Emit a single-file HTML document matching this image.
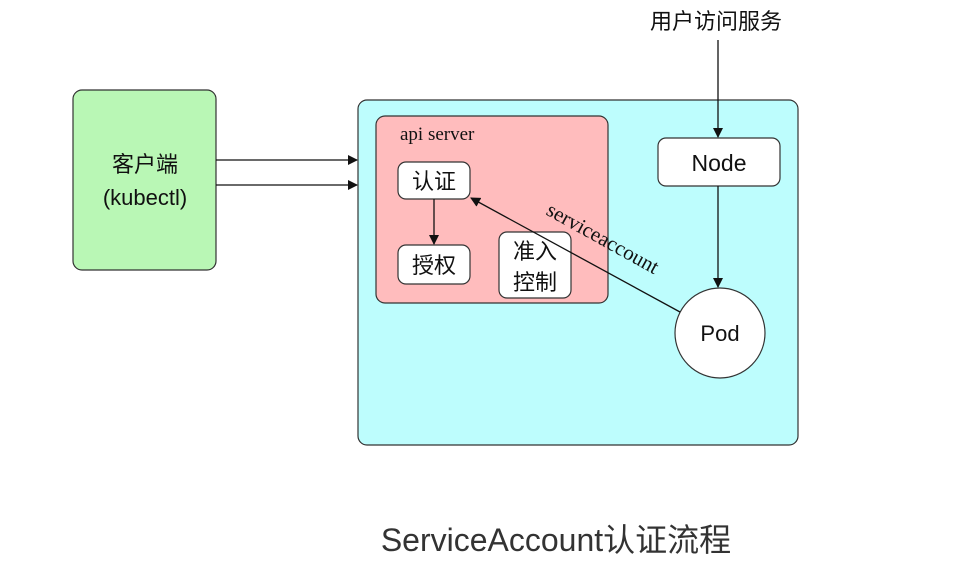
<!DOCTYPE html>
<html><head><meta charset="utf-8"><style>body{margin:0;background:#fff}svg{display:block}</style></head><body>
<svg width="971" height="576" viewBox="0 0 971 576" xmlns="http://www.w3.org/2000/svg" font-family="'Liberation Sans','Noto Sans CJK SC',sans-serif">
<defs><marker id="a" markerWidth="10" markerHeight="10" refX="9" refY="5" orient="auto" markerUnits="userSpaceOnUse"><path d="M0,0 L10,5 L0,10 z" fill="#111"/></marker></defs>
<rect x="73" y="90" width="143" height="180" rx="9" fill="#b9f7b5" stroke="#333" stroke-width="1.2"/>
<text x="145" y="172" font-size="22" text-anchor="middle" fill="#111">客户端</text>
<text x="145" y="205" font-size="22" text-anchor="middle" fill="#111">(kubectl)</text>
<rect x="358" y="100" width="440" height="345" rx="9" fill="#bdfdfd" stroke="#333" stroke-width="1.2"/>
<rect x="376" y="116" width="232" height="187" rx="9" fill="#ffbcbd" stroke="#333" stroke-width="1.2"/>
<text x="400" y="140" font-size="19" font-family="'Liberation Serif',serif" fill="#111">api server</text>
<rect x="398" y="162" width="72" height="37" rx="8" fill="#fff" stroke="#333" stroke-width="1.2"/>
<text x="434" y="189" font-size="22" text-anchor="middle" fill="#111">认证</text>
<rect x="398" y="245" width="72" height="39" rx="8" fill="#fff" stroke="#333" stroke-width="1.2"/>
<text x="434" y="273" font-size="22" text-anchor="middle" fill="#111">授权</text>
<rect x="499" y="232" width="72" height="66" rx="8" fill="#fff" stroke="#333" stroke-width="1.2"/>
<text x="535" y="259" font-size="22" text-anchor="middle" fill="#111">准入</text>
<text x="535" y="290" font-size="22" text-anchor="middle" fill="#111">控制</text>
<rect x="658" y="138" width="122" height="48" rx="8" fill="#fff" stroke="#333" stroke-width="1.2"/>
<text x="719" y="171" font-size="23" text-anchor="middle" fill="#111">Node</text>
<circle cx="720" cy="333" r="45" fill="#fff" stroke="#333" stroke-width="1.2"/>
<text x="720" y="341" font-size="22" text-anchor="middle" fill="#111">Pod</text>
<text x="650" y="29" font-size="22" fill="#111">用户访问服务</text>
<g stroke="#111" stroke-width="1.3" fill="none">
<line x1="216" y1="160" x2="357" y2="160" marker-end="url(#a)"/>
<line x1="216" y1="185" x2="357" y2="185" marker-end="url(#a)"/>
<line x1="718" y1="40" x2="718" y2="137" marker-end="url(#a)"/>
<line x1="718" y1="186" x2="718" y2="287" marker-end="url(#a)"/>
<line x1="434" y1="199" x2="434" y2="244" marker-end="url(#a)"/>
<line x1="680" y1="312" x2="471" y2="198" marker-end="url(#a)"/>
</g>
<text transform="translate(545,214) rotate(29)" font-size="21" font-family="'Liberation Serif',serif" fill="#111">serviceaccount</text>
<text x="556" y="551" font-size="32" text-anchor="middle" fill="#333">ServiceAccount认证流程</text>
</svg>
</body></html>
